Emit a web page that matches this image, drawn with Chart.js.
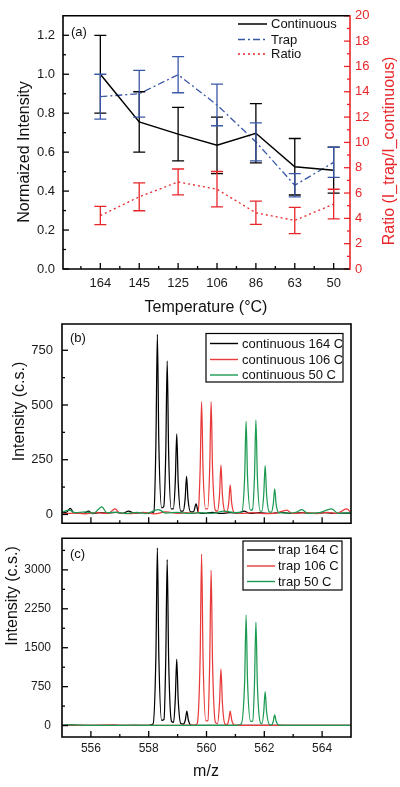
<!DOCTYPE html>
<html><head><meta charset="utf-8">
<script src="https://cdn.jsdelivr.net/npm/chart.js@4.4.0/dist/chart.umd.min.js"></script>
<style>
html,body{margin:0;padding:0;background:#fff;width:400px;height:787px;overflow:hidden;position:relative;}
canvas{position:absolute;left:0;}
</style></head><body>
<canvas id="ca" width="400" height="320" style="top:0"></canvas>
<canvas id="cb" width="400" height="240" style="top:300px"></canvas>
<canvas id="cc" width="400" height="267" style="top:520px"></canvas>
<script>
const FONT = '"Liberation Sans", Arial, Helvetica, sans-serif';
const BLUE = '#3a58a8';
const RED = '#e8262a';
const SRED = '#e83a3a';
const SGREEN = '#1c9a52';

// ---------- Panel (a) ----------
const temps = ['164','145','125','106','86','63','50'];
const contVals = [1.0, 0.755, 0.6925, 0.635, 0.697, 0.525, 0.5075];
const contErr  = [0.2, 0.155, 0.1375, 0.145, 0.152, 0.145, 0.118];
const trapVals = [0.885, 0.9, 0.9975, 0.8425, 0.6525, 0.43, 0.5475];
const trapErr  = [0.115, 0.12, 0.0925, 0.107, 0.0975, 0.06, 0.0775];
const ratioVals = [4.22, 5.7, 6.875, 6.3, 4.44, 3.835, 5.13];
const ratioErr  = [0.72, 1.1, 1.025, 1.4, 0.92, 1.035, 1.17];
const leftTicks = [0, 0.2, 0.4, 0.6, 0.8, 1.0, 1.2];
const ratioTicks = [0, 2, 4, 6, 8, 10, 12, 14, 16, 18, 20];

// ---------- Panel (b) ----------
const contLabels = ['continuous 164 C', 'continuous 106 C', 'continuous 50 C'];
const cont164 = [[555.0,8],[555.15,10],[555.29,28],[555.4,8],[555.6,6],[555.75,5],[555.92,15],[556.05,4],[556.3,8],[556.6,6],[556.9,10],[557.1,5],[557.3,15],[557.5,6],[557.8,8],[558.05,5],[558.18,12],[558.25,330],[558.30,823],[558.35,330],[558.45,30],[558.52,35],[558.59,280],[558.64,701],[558.69,280],[558.78,25],[558.85,25],[558.92,150],[558.97,368],[559.02,150],[559.11,15],[559.19,15],[559.26,70],[559.31,174],[559.36,70],[559.45,12],[559.55,12],[559.64,48],[559.72,8],[559.9,5],[560.2,10],[560.5,5],[560.8,8],[561.1,6],[561.3,15],[561.5,5],[561.8,8],[562.2,5],[562.6,10],[562.9,5],[563.3,8],[563.7,5],[564.1,8],[564.5,5],[565,6]];
const cont106 = [[555,3],[555.4,6],[555.8,3],[556.2,8],[556.6,5],[556.84,25],[557.0,6],[557.4,4],[557.8,10],[558.2,3],[558.6,12],[559.0,5],[559.3,8],[559.6,5],[559.71,12],[559.78,206],[559.83,515],[559.88,206],[559.97,25],[560.04,25],[560.11,206],[560.16,515],[560.21,206],[560.31,18],[560.38,15],[560.45,90],[560.50,225],[560.55,90],[560.64,12],[560.70,10],[560.77,54],[560.82,135],[560.87,54],[560.96,8],[561.2,5],[561.6,8],[562.0,4],[562.4,6],[562.78,20],[562.95,5],[563.4,8],[563.8,4],[564.2,10],[564.5,5],[564.85,25],[565,8]];
const cont50 = [[555,10],[555.25,20],[555.45,8],[555.8,12],[556.1,6],[556.38,35],[556.55,8],[556.9,10],[557.2,5],[557.6,10],[557.9,4],[558.33,22],[558.6,6],[559.0,10],[559.4,5],[559.8,8],[560.2,5],[560.6,15],[561.0,8],[561.22,12],[561.32,170],[561.37,426],[561.42,170],[561.52,20],[561.59,22],[561.66,172],[561.71,431],[561.76,172],[561.86,15],[561.92,15],[561.98,90],[562.03,223],[562.08,90],[562.17,12],[562.24,10],[562.31,47],[562.36,117],[562.41,47],[562.5,8],[562.8,6],[563.1,10],[563.3,22],[563.5,5],[563.9,8],[564.33,25],[564.55,5],[565,8]];
const intTicksB = [0, 250, 500, 750];

// ---------- Panel (c) ----------
const trapLabels = ['trap 164 C', 'trap 106 C', 'trap 50 C'];
const trap164 = [[555,5],[555.3,15],[555.6,5],[556,3],[556.5,6],[557,5],[557.5,3],[558.0,5],[558.15,30],[558.25,1370],[558.30,3425],[558.35,1370],[558.45,100],[558.53,120],[558.59,1280],[558.64,3196],[558.69,1280],[558.79,80],[558.86,60],[558.92,510],[558.97,1277],[559.02,510],[559.11,40],[559.2,30],[559.27,112],[559.32,280],[559.37,112],[559.46,10],[559.7,5],[560.5,3],[561.5,5],[562.5,3],[563.5,5],[565,3]];
const trap106 = [[555,3],[556,5],[556.8,15],[557,4],[558,3],[559,5],[559.6,10],[559.68,40],[559.78,1320],[559.83,3302],[559.88,1320],[559.98,90],[560.05,100],[560.11,1196],[560.16,2990],[560.21,1196],[560.31,60],[560.38,40],[560.45,436],[560.50,1090],[560.55,436],[560.64,30],[560.72,20],[560.77,112],[560.82,280],[560.87,112],[560.96,10],[561.3,5],[562,3],[563,5],[564,3],[565,5]];
const trap50 = [[555,3],[555.3,12],[556,5],[557,4],[557.5,8],[558,3],[559,4],[560,3],[561,5],[561.2,30],[561.32,852],[561.37,2130],[561.42,852],[561.53,80],[561.60,90],[561.66,798],[561.71,1994],[561.76,798],[561.87,50],[561.92,40],[561.98,262],[562.03,654],[562.08,262],[562.18,20],[562.26,15],[562.31,82],[562.36,206],[562.41,82],[562.5,8],[563,4],[564,5],[565,3]];
const intTicksC = [0, 750, 1500, 2250, 3000];
const mzTicks = [556, 558, 560, 562, 564];

// ---------- helpers ----------
const pts = arr => arr.map(p => ({x: p[0], y: p[1]}));
const idx = arr => arr.map((v, i) => ({x: i, y: v}));
const setTicks = vals => (s => { s.ticks = vals.map(v => ({value: v})); });

const decoPlugin = {
  id: 'deco',
  afterDatasetsDraw(chart, args, opts) {
    const ctx = chart.ctx, a = chart.chartArea;
    ctx.save();
    // error bars
    chart.data.datasets.forEach((ds, i) => {
      if (!ds.errors) return;
      const xs = chart.scales.x, ys = chart.scales[ds.yAxisID || 'y'];
      ctx.strokeStyle = ds.borderColor; ctx.lineWidth = 1.3; ctx.setLineDash([]);
      ds.data.forEach((d, j) => {
        const e = ds.errors[j];
        const px = xs.getPixelForValue(d.x);
        const pt = ys.getPixelForValue(d.y + e), pb = ys.getPixelForValue(d.y - e);
        ctx.beginPath();
        ctx.moveTo(px, pt); ctx.lineTo(px, pb);
        ctx.moveTo(px - 6, pt); ctx.lineTo(px + 6, pt);
        ctx.moveTo(px - 6, pb); ctx.lineTo(px + 6, pb);
        ctx.stroke();
      });
    });
    // inward ticks
    (opts.ticks || []).forEach(t => {
      const s = chart.scales[t.id];
      const vals = s.ticks.map(k => k.value);
      const step = vals.length > 1 ? vals[1] - vals[0] : 1;
      const minors = [];
      if (vals[0] - step / 2 > s.min) minors.push(vals[0] - step / 2);
      vals.forEach(v => { if (v + step / 2 < s.max) minors.push(v + step / 2); });
      ctx.strokeStyle = t.color || '#000'; ctx.lineWidth = 1.3;
      const draw = (v, len) => {
        const p = s.getPixelForValue(v);
        ctx.beginPath();
        if (t.side === 'bottom') { ctx.moveTo(p, a.bottom); ctx.lineTo(p, a.bottom - len); }
        else if (t.side === 'left') { ctx.moveTo(a.left, p); ctx.lineTo(a.left + len, p); }
        else { ctx.moveTo(a.right, p); ctx.lineTo(a.right - len, p); }
        ctx.stroke();
      };
      vals.forEach(v => draw(v, 6));
      minors.forEach(v => draw(v, 3));
    });
    // frame
    ctx.lineWidth = 1.6; ctx.strokeStyle = '#000';
    ctx.beginPath();
    ctx.moveTo(a.right, a.top); ctx.lineTo(a.left, a.top); ctx.lineTo(a.left, a.bottom); ctx.lineTo(a.right, a.bottom);
    ctx.stroke();
    ctx.strokeStyle = opts.rightColor || '#000';
    ctx.beginPath(); ctx.moveTo(a.right, a.top - 0.8); ctx.lineTo(a.right, a.bottom + 0.8); ctx.stroke();
    // legend
    const lg = opts.legend;
    if (lg) {
      if (lg.box) { ctx.lineWidth = 1.2; ctx.strokeStyle = '#000'; ctx.strokeRect(lg.box[0], lg.box[1], lg.box[2], lg.box[3]); }
      chart.data.datasets.forEach((ds, i) => {
        const y = lg.rows[i];
        ctx.strokeStyle = ds.borderColor; ctx.lineWidth = lg.lw || ds.borderWidth || 1;
        ctx.setLineDash(ds.borderDash || []);
        ctx.beginPath(); ctx.moveTo(lg.x1, y); ctx.lineTo(lg.x2, y); ctx.stroke();
        ctx.setLineDash([]);
        ctx.font = lg.font; ctx.fillStyle = '#111'; ctx.textAlign = 'left'; ctx.textBaseline = 'middle';
        ctx.fillText(ds.label, lg.tx, y + 0.5);
      });
    }
    // texts (axis titles, panel labels)
    (opts.texts || []).forEach(t => {
      ctx.save(); ctx.translate(t.x, t.y); ctx.rotate(t.rot || 0);
      ctx.font = t.font; ctx.fillStyle = t.color || '#111';
      ctx.textAlign = t.align || 'center'; ctx.textBaseline = 'middle';
      ctx.fillText(t.text, 0, 0); ctx.restore();
    });
    ctx.restore();
  }
};

const noGrid = {display: false, drawTicks: false};
const noBorder = {display: false};
const tickFont = size => ({size: size, family: FONT});
const TITLE = '16px ' + FONT;
const LEG = '13px ' + FONT;

// ---------- Chart (a) ----------
new Chart(document.getElementById('ca'), {
  type: 'line',
  data: {datasets: [
    {label: 'Continuous', data: idx(contVals), errors: contErr, borderColor: '#000', borderWidth: 1.5, pointRadius: 0, yAxisID: 'y'},
    {label: 'Trap', data: idx(trapVals), errors: trapErr, borderColor: BLUE, borderWidth: 1.3, borderDash: [7, 3, 2, 3], pointRadius: 0, yAxisID: 'y'},
    {label: 'Ratio', data: idx(ratioVals), errors: ratioErr, borderColor: RED, borderWidth: 1.3, borderDash: [2, 3], pointRadius: 0, yAxisID: 'y2'}
  ]},
  options: {
    responsive: false, animation: false, events: [],
    layout: {padding: {top: 12, left: 0, right: 0, bottom: 0}},
    plugins: {
      legend: {display: false}, tooltip: {enabled: false},
      deco: {
        rightColor: RED,
        ticks: [{id: 'x', side: 'bottom'}, {id: 'y', side: 'left'}, {id: 'y2', side: 'right', color: RED}],
        legend: {x1: 238, x2: 267, tx: 271, rows: [24, 39.5, 54], font: LEG},
        texts: [
          {text: 'Normaized Intensity', x: 25, y: 152, rot: -Math.PI / 2, font: TITLE},
          {text: 'Ratio (I_trap/I_continuous)', x: 390, y: 151, rot: -Math.PI / 2, font: TITLE, color: RED},
          {text: 'Temperature (\u00B0C)', x: 206, y: 308, font: TITLE},
          {text: '(a)', x: 71, y: 32, align: 'left', font: '13px ' + FONT}
        ]
      }
    },
    scales: {
      x: {type: 'linear', min: -0.96, max: 6.42, afterBuildTicks: s => { s.ticks = temps.map((t, i) => ({value: i})); },
          ticks: {callback: v => temps[Math.round(v)], font: tickFont(13), color: '#1a1a1a', padding: 7, maxRotation: 0, autoSkip: false},
          grid: noGrid, border: noBorder, afterFit: s => { s.height = 51; }},
      y: {position: 'left', min: 0, max: 1.3, afterBuildTicks: setTicks(leftTicks),
          ticks: {callback: v => v.toFixed(1), font: tickFont(13), color: '#1a1a1a', padding: 8, autoSkip: false},
          grid: noGrid, border: noBorder, afterFit: s => { s.width = 63; }},
      y2: {position: 'right', min: 0, max: 20, afterBuildTicks: setTicks(ratioTicks),
          ticks: {callback: v => String(v), font: tickFont(13), color: RED, padding: 5, autoSkip: false},
          grid: noGrid, border: noBorder, afterFit: s => { s.width = 50; }}
    }
  },
  plugins: [decoPlugin]
});

// ---------- spectrum chart factory ----------
function spectrum(id, labels, series, yMin, yMax, yTicks, opt) {
  const colors = ['#000', SRED, SGREEN];
  return new Chart(document.getElementById(id), {
    type: 'line',
    data: {datasets: series.map((s, i) => ({
      label: labels[i], data: pts(s), borderColor: colors[i], borderWidth: 1.25, pointRadius: 0,
      cubicInterpolationMode: 'monotone', order: 2 - i
    }))},
    options: {
      responsive: false, animation: false, events: [],
      layout: {padding: {top: opt.top, left: 0, right: 49, bottom: 0}},
      plugins: {
        legend: {display: false}, tooltip: {enabled: false},
        deco: {
          ticks: [{id: 'x', side: 'bottom'}, {id: 'y', side: 'left'}],
          legend: opt.legend,
          texts: opt.texts
        }
      },
      scales: {
        x: {type: 'linear', min: 555, max: 565, afterBuildTicks: setTicks(mzTicks),
            ticks: {display: opt.xLabels, callback: v => String(v), font: tickFont(opt.fs), color: '#1a1a1a', padding: 4, maxRotation: 0, autoSkip: false},
            grid: noGrid, border: noBorder, afterFit: s => { s.height = opt.xh; }},
        y: {type: 'linear', min: yMin, max: yMax, afterBuildTicks: setTicks(yTicks),
            ticks: {callback: v => String(v), font: tickFont(opt.fs), color: '#1a1a1a', padding: opt.ypad, autoSkip: false},
            grid: noGrid, border: noBorder, afterFit: s => { s.width = 62; }}
      }
    },
    plugins: [decoPlugin]
  });
}

spectrum('cb', contLabels, [cont164, cont106, cont50], -40, 870, intTicksB, {
  top: 24, xh: 9, xLabels: false, fs: 13, ypad: 9,
  legend: {box: [206, 33.5, 137, 48.5], x1: 210, x2: 238, tx: 242, rows: [43.5, 59.5, 75], font: LEG, lw: 1.4},
  texts: [
    {text: 'Intensity (c.s.)', x: 20, y: 111.5, rot: -Math.PI / 2, font: TITLE},
    {text: '(b)', x: 70, y: 38, align: 'left', font: '13px ' + FONT}
  ]
});

spectrum('cc', trapLabels, [trap164, trap106, trap50], -220, 3610, intTicksC, {
  top: 11, xh: 50, xLabels: true, fs: 12, ypad: 11,
  legend: {box: [243, 21, 99, 49], x1: 247, x2: 275, tx: 278, rows: [30, 46, 61.5], font: LEG, lw: 1.4},
  texts: [
    {text: 'Intensity (c.s.)', x: 13, y: 76, rot: -Math.PI / 2, font: TITLE},
    {text: '(c)', x: 70, y: 34, align: 'left', font: '13px ' + FONT},
    {text: 'm/z', x: 206, y: 252, font: TITLE}
  ]
});
</script>
</body></html>
